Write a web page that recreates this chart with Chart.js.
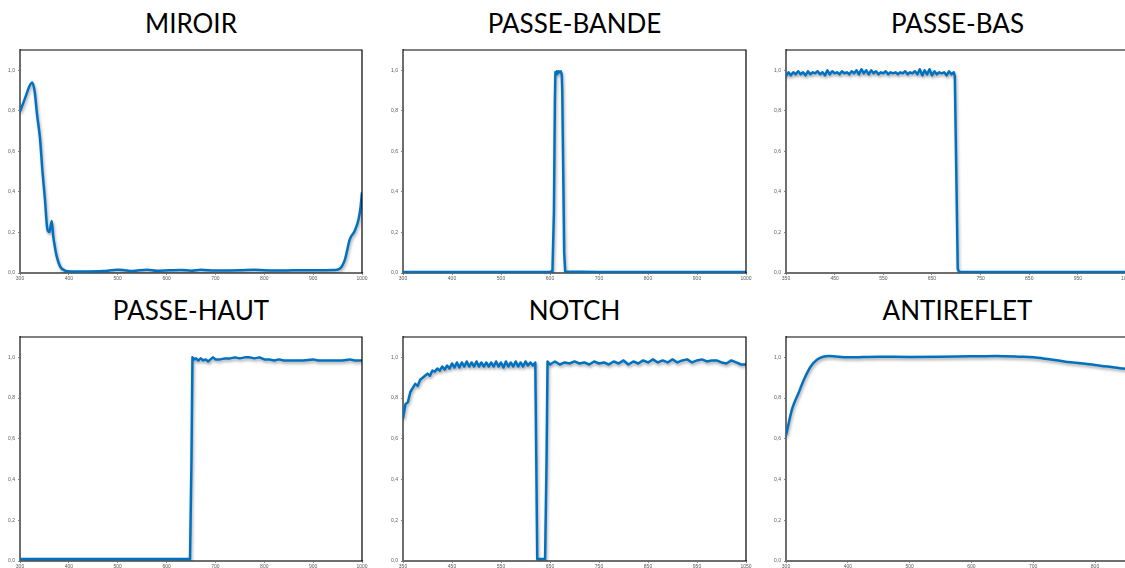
<!DOCTYPE html>
<html>
<head>
<meta charset="utf-8">
<script src="https://cdn.jsdelivr.net/npm/chart.js@4/dist/chart.umd.min.js"></script>
<style>
  html, body { margin: 0; padding: 0; background: #fff; }
  body { width: 1125px; height: 568px; overflow: hidden; position: relative; }
  .titre { position: absolute; font-family: Lato, sans-serif; font-size: 26px; color: #000; text-align: center; white-space: nowrap; }
  .boite { position: absolute; }
</style>
</head>
<body>
<script>
// Données (longueur d'onde en nm, transmission)
const miroirX = [300, 310, 320, 325, 330, 335, 341, 346, 351, 356, 360, 365, 368, 372, 375, 382, 392, 402, 430, 470, 500, 510, 530, 560, 580, 630, 650, 670, 700, 750, 780, 820, 860, 900, 945, 955, 965, 975, 985, 993, 997, 1000];
const miroirY = [0.796, 0.86, 0.925, 0.94, 0.895, 0.78, 0.663, 0.5, 0.365, 0.216, 0.202, 0.257, 0.182, 0.12, 0.083, 0.033, 0.012, 0.008, 0.008, 0.01, 0.016, 0.015, 0.01, 0.016, 0.011, 0.015, 0.011, 0.016, 0.012, 0.013, 0.016, 0.012, 0.013, 0.014, 0.015, 0.022, 0.066, 0.166, 0.207, 0.265, 0.323, 0.398];

const bandeX = [300, 400, 500, 600, 605, 608, 610, 611, 613, 614, 616, 618, 620, 622, 624, 625, 627, 629, 631, 700, 800, 900, 1000];
const bandeY = [0.005, 0.005, 0.005, 0.005, 0.01, 0.3, 0.85, 0.99, 0.98, 0.995, 0.985, 0.995, 0.99, 0.995, 0.98, 0.9, 0.5, 0.1, 0.008, 0.005, 0.005, 0.005, 0.005];

const basX = [350, 355, 360, 365, 370, 375, 380, 385, 390, 395,
  400, 405, 410, 415, 420, 425, 430, 435, 440, 445,
  450, 455, 460, 465, 470, 475, 480, 485, 490, 495,
  500, 505, 510, 515, 520, 525, 530, 535, 540, 545,
  550, 555, 560, 565, 570, 575, 580, 585, 590, 595,
  600, 605, 610, 615, 620, 625, 630, 635, 640, 645,
  650, 655, 660, 665, 670, 675, 680, 685, 690, 695,
  697, 700, 703, 706, 750, 850, 950, 1055];
const basY = [0.97, 0.99, 0.975, 0.99, 0.98, 0.995, 0.98, 0.99, 0.975, 0.995,
  0.98, 0.99, 0.985, 0.995, 0.98, 0.99, 0.975, 1.0, 0.98, 0.995,
  0.985, 0.99, 0.98, 0.995, 0.985, 0.99, 0.98, 0.995, 0.985, 1.0,
  0.98, 1.005, 0.985, 1.0, 0.98, 1.0, 0.985, 0.995, 0.98, 0.99,
  0.985, 0.995, 0.98, 0.99, 0.985, 0.99, 0.98, 0.99, 0.985, 0.995,
  0.98, 0.99, 0.985, 0.995, 0.98, 1.005, 0.975, 1.0, 0.98, 1.005,
  0.975, 0.995, 0.98, 0.99, 0.985, 0.99, 0.975, 0.995, 0.98, 0.99,
  0.97, 0.5, 0.02, 0.005, 0.005, 0.005, 0.005, 0.005];

const hautX = [300, 400, 500, 600, 648, 651, 653, 657, 660, 665, 670, 675, 680, 685, 690, 695, 700, 710, 720, 730, 740, 750, 760, 770, 780, 790, 800, 810, 820, 830, 840, 860, 880, 900, 910, 940, 960, 975, 985, 1000];
const hautY = [0.01, 0.01, 0.01, 0.01, 0.01, 0.5, 1.0, 0.99, 0.995, 0.985, 0.995, 0.985, 0.99, 0.98, 0.99, 1.0, 0.99, 0.99, 0.995, 0.995, 1.0, 0.995, 1.0, 1.0, 0.995, 1.0, 0.99, 0.99, 0.985, 0.99, 0.985, 0.985, 0.985, 0.99, 0.985, 0.985, 0.985, 0.99, 0.985, 0.985];

const notchX = [350, 355, 360, 365, 370, 375, 380, 385, 390, 395,
  400, 405, 410, 415, 420, 425, 430, 435, 440, 445,
  450, 455, 460, 465, 470, 475, 480, 485, 490, 495,
  500, 505, 510, 515, 520, 525, 530, 535, 540, 545,
  550, 555, 560, 565, 570, 575, 580, 585, 590, 595,
  600, 605, 610, 615, 620, 622, 624, 640, 643, 645,
  650, 660, 670, 680, 690, 700, 710, 720, 730, 740,
  750, 760, 770, 780, 790, 800, 810, 820, 830, 840,
  850, 860, 870, 880, 890, 900, 910, 920, 930, 940,
  950, 960, 970, 980, 990, 1000, 1010, 1020, 1030, 1040, 1050];
const notchY = [0.70, 0.77, 0.78, 0.83, 0.85, 0.87, 0.86, 0.89, 0.90, 0.91,
  0.92, 0.91, 0.935, 0.93, 0.945, 0.935, 0.955, 0.94, 0.96, 0.945,
  0.97, 0.95, 0.975, 0.95, 0.975, 0.955, 0.98, 0.955, 0.975, 0.955,
  0.98, 0.955, 0.975, 0.955, 0.975, 0.955, 0.975, 0.955, 0.98, 0.955,
  0.975, 0.95, 0.98, 0.955, 0.975, 0.955, 0.98, 0.955, 0.975, 0.955,
  0.98, 0.96, 0.975, 0.96, 0.975, 0.5, 0.01, 0.01, 0.5, 0.98,
  0.965, 0.98, 0.965, 0.975, 0.97, 0.98, 0.97, 0.975, 0.965, 0.98,
  0.97, 0.975, 0.965, 0.98, 0.97, 0.985, 0.965, 0.98, 0.97, 0.985,
  0.975, 0.99, 0.975, 0.985, 0.975, 0.99, 0.975, 0.985, 0.99, 0.975,
  0.985, 0.99, 0.98, 0.985, 0.985, 0.975, 0.97, 0.985, 0.975, 0.965, 0.965];

const antirefletX = [300, 310, 320, 330, 340, 350, 360, 370, 400, 450, 500, 550, 600, 640, 680, 700, 720, 750, 800, 840, 860];
const antirefletY = [0.616, 0.748, 0.823, 0.897, 0.955, 0.988, 1.003, 1.007, 1.0, 1.003, 1.002, 1.003, 1.005, 1.007, 1.003, 1.0, 0.993, 0.98, 0.963, 0.947, 0.94];

// Panneaux : titre, données, bornes de l'axe x, position de la zone de tracé
const panneaux = [
  { titre: 'MIROIR', x: miroirX, y: miroirY, min: 300, max: 1000, pas: 100, lisse: true, zone: [20, 50, 362, 273] },
  { titre: 'PASSE-BANDE', x: bandeX, y: bandeY, min: 300, max: 1000, pas: 100, lisse: false, zone: [403, 50, 746, 273] },
  { titre: 'PASSE-BAS', x: basX, y: basY, min: 350, max: 1055, pas: 100, lisse: false, zone: [786, 50, 1129, 273] },
  { titre: 'PASSE-HAUT', x: hautX, y: hautY, min: 300, max: 1000, pas: 100, lisse: false, zone: [20, 337, 362, 561] },
  { titre: 'NOTCH', x: notchX, y: notchY, min: 350, max: 1050, pas: 100, lisse: false, zone: [403, 337, 746, 561] },
  { titre: 'ANTIREFLET', x: antirefletX, y: antirefletY, min: 300, max: 855, pas: 100, lisse: true, zone: [786, 337, 1129, 561] }
];

const GAUCHE = 22, HAUT = 6, DROITE = 12, BAS = 14;

// Ombre grise sous la courbe + cadre noir en haut et à droite
const ombre = {
  id: 'ombre',
  beforeDatasetsDraw(chart) {
    const c = chart.ctx;
    c.save();
    c.shadowColor = 'rgba(0,0,0,0.35)';
    c.shadowBlur = 3;
    c.shadowOffsetX = 1;
    c.shadowOffsetY = 2;
  },
  afterDatasetsDraw(chart) {
    chart.ctx.restore();
  },
  afterDraw(chart) {
    const a = chart.chartArea, c = chart.ctx;
    c.save();
    c.strokeStyle = '#000';
    c.lineWidth = 1.2;
    c.beginPath();
    c.moveTo(a.left, a.top);
    c.lineTo(a.right, a.top);
    c.lineTo(a.right, a.bottom);
    c.stroke();
    c.restore();
  }
};

function creerPanneau(p) {
  const [l, t, r, b] = p.zone;

  let titre = document.createElement('div');
  titre.className = 'titre';
  titre.textContent = p.titre;
  titre.style.left = ((l + r) / 2 - 150) + 'px';
  titre.style.width = '300px';
  titre.style.top = (t - 43) + 'px';
  document.body.appendChild(titre);

  let boite = document.createElement('div');
  boite.className = 'boite';
  boite.style.left = (l - GAUCHE) + 'px';
  boite.style.top = (t - HAUT) + 'px';
  boite.style.width = (r - l + GAUCHE + DROITE) + 'px';
  boite.style.height = (b - t + HAUT + BAS) + 'px';
  let canvas = document.createElement('canvas');
  boite.appendChild(canvas);
  document.body.appendChild(boite);

  let points = p.x.map(function(v, i) { return { x: v, y: p.y[i] }; });

  return new Chart(canvas.getContext('2d'), {
    type: 'line',
    data: {
      datasets: [{
        data: points,
        borderColor: '#0070C0',
        borderWidth: 2.5,
        borderJoinStyle: 'round',
        pointRadius: 0,
        fill: false,
        tension: p.lisse ? 0.3 : 0,
        cubicInterpolationMode: p.lisse ? 'monotone' : 'default'
      }]
    },
    options: {
      responsive: true,
      maintainAspectRatio: false,
      animation: false,
      layout: { padding: { left: 0, top: HAUT, right: DROITE, bottom: 0 } },
      plugins: { legend: { display: false }, tooltip: { enabled: false } },
      scales: {
        x: {
          type: 'linear',
          min: p.min,
          max: p.max,
          afterFit: function(s) { s.height = BAS; },
          afterBuildTicks: function(s) {
            let t = [];
            for (let v = p.min; v <= p.max; v += p.pas) t.push({ value: v });
            s.ticks = t;
          },
          ticks: {
            autoSkip: false,
            maxRotation: 0,
            padding: 1,
            color: '#595959',
            font: { family: 'Liberation Sans', size: 5 },
            callback: function(v) { return String(v); }
          },
          grid: { display: true, drawOnChartArea: false, tickLength: 2, color: '#888' },
          border: { color: '#6e6e6e', width: 2 }
        },
        y: {
          min: 0,
          max: 1.1,
          afterFit: function(s) { s.width = GAUCHE; },
          ticks: {
            stepSize: 0.2,
            includeBounds: false,
            padding: 3,
            color: '#595959',
            font: { family: 'Liberation Sans', size: 5 },
            callback: function(v) { return v.toFixed(1).replace('.', ','); }
          },
          grid: { display: true, drawOnChartArea: false, tickLength: 2, color: '#888' },
          border: { color: '#6e6e6e', width: 2 }
        }
      }
    },
    plugins: [ombre]
  });
}

panneaux.forEach(creerPanneau);
</script>
</body>
</html>
